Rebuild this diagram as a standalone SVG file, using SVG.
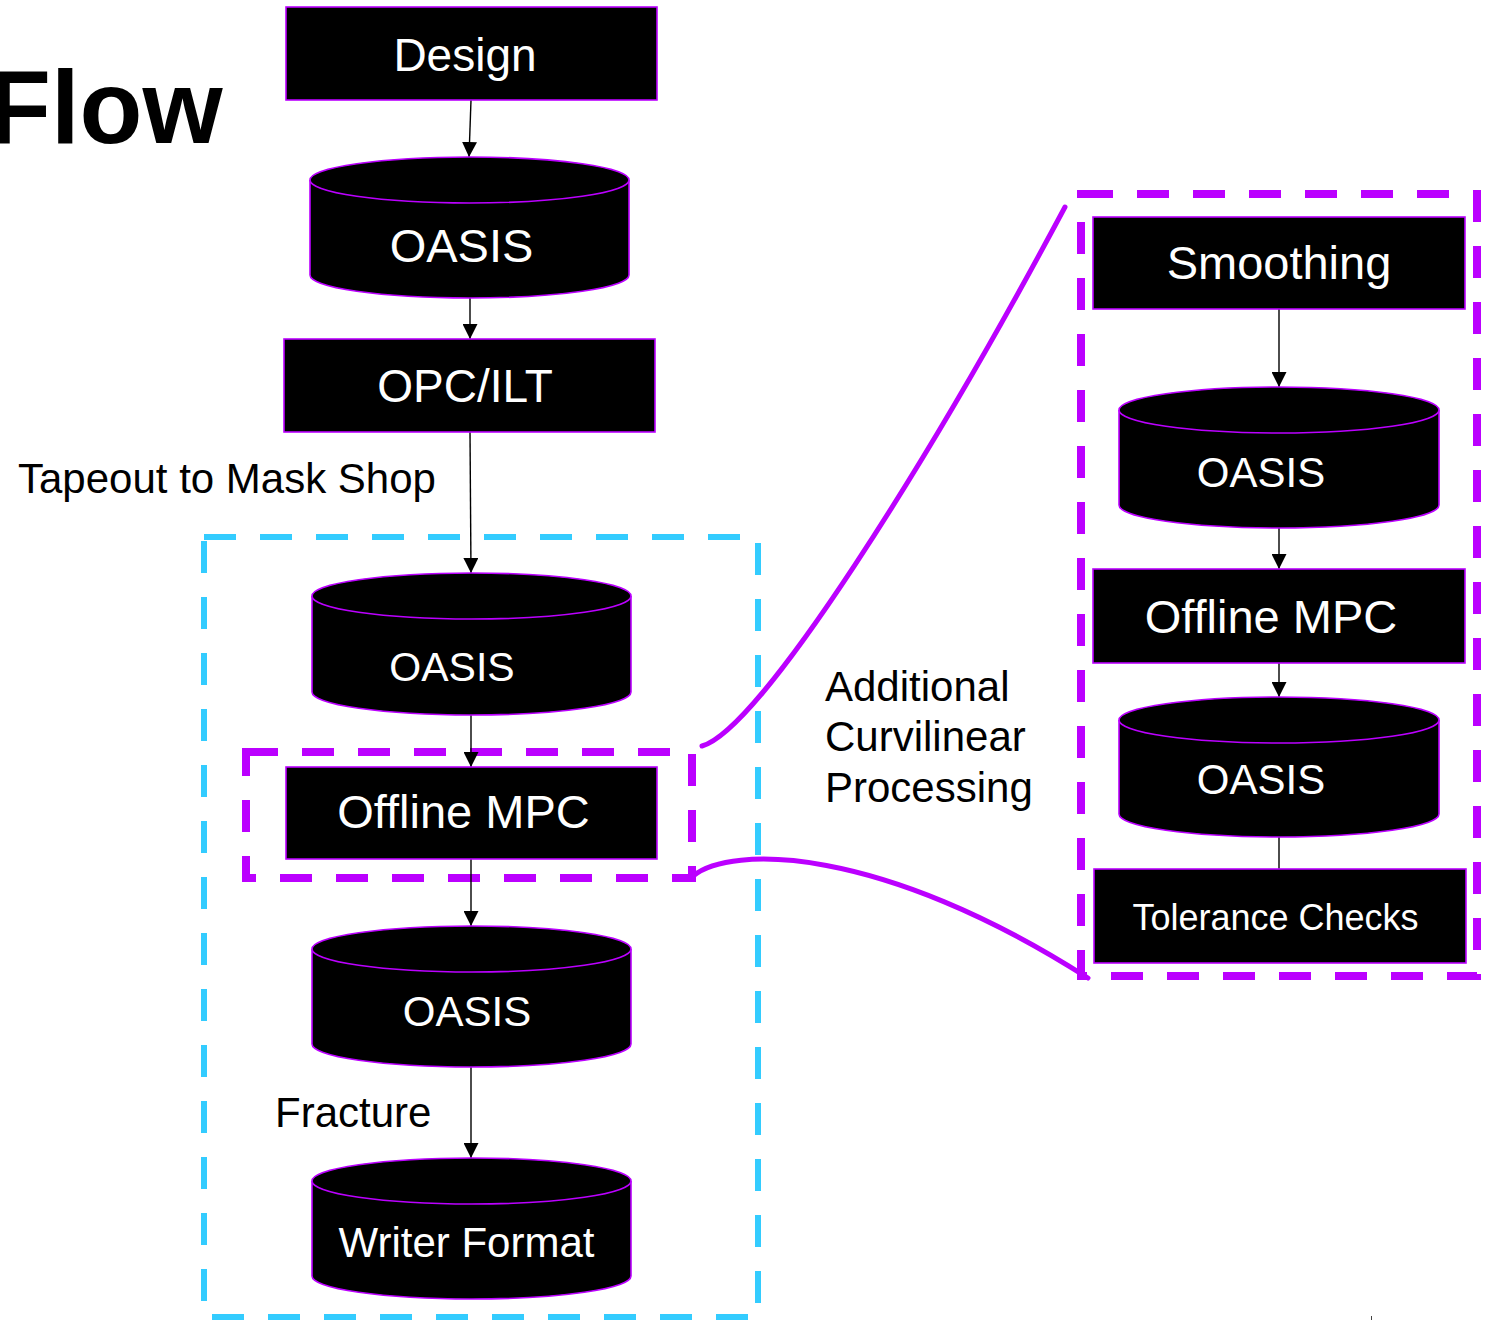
<svg xmlns="http://www.w3.org/2000/svg" width="1485" height="1320" viewBox="0 0 1485 1320">
  <style>
    .box { fill: #000; stroke: #BB00FF; stroke-width: 1.6; }
    .cyl { fill: #000; stroke: #BB00FF; stroke-width: 1.6; }
    .lbl { font-family: "Liberation Sans", Arial, sans-serif; fill: #fff; text-anchor: middle; }
    .note { font-family: "Liberation Sans", Arial, sans-serif; fill: #000; font-size: 42px; }
    .edge { stroke: #000; stroke-width: 1.4; fill: none; }
    .arrow { marker-end: url(#head); }
    .zone-cyan { fill: none; stroke: #33CCFF; stroke-width: 6; stroke-dasharray: 32 24; }
    .zone-purple { fill: none; stroke: #BB00FF; stroke-width: 8; stroke-dasharray: 32 24; }
    .zoom-link { fill: none; stroke: #BB00FF; stroke-width: 5; stroke-linecap: round; }
  </style>
  <defs>
    <marker id="head" markerUnits="userSpaceOnUse" markerWidth="15" markerHeight="15" refX="15" refY="7.5" orient="auto">
      <path d="M0,0 L15,7.5 L0,15 Z" fill="#000"/>
    </marker>
  </defs>

  <rect width="1485" height="1320" fill="#fff"/>

  <!-- title -->
  <text x="-12" y="143" font-family="Liberation Sans, Arial, sans-serif" font-weight="bold" font-size="103" fill="#000">Flow</text>

  <!-- grouping frames -->
  <g id="frames">
    <rect class="zone-cyan" x="204" y="537" width="554" height="780"/>
    <rect class="zone-purple" x="246" y="752" width="446" height="126"/>
    <rect class="zone-purple" x="1081" y="194" width="396" height="782"/>
  </g>

  <!-- connectors -->
  <g id="connectors">
    <line class="edge arrow" x1="471" y1="100" x2="469" y2="157"/>
    <line class="edge arrow" x1="470" y1="298" x2="470" y2="339"/>
    <line class="edge arrow" x1="470" y1="432" x2="471" y2="573"/>
    <line class="edge arrow" x1="471" y1="715" x2="471" y2="767"/>
    <line class="edge arrow" x1="471" y1="859" x2="471" y2="926"/>
    <line class="edge arrow" x1="471" y1="1067" x2="471" y2="1158"/>
    <line class="edge arrow" x1="1279" y1="309" x2="1279" y2="387"/>
    <line class="edge arrow" x1="1279" y1="528" x2="1279" y2="569"/>
    <line class="edge arrow" x1="1279" y1="663" x2="1279" y2="697"/>
    <line class="edge" x1="1279" y1="837" x2="1279" y2="869"/>
    <!-- zoom-out curves from the small frame to the detail frame -->
    <path class="zoom-link" d="M702,746 C760,730 930,460 1065,207"/>
    <path class="zoom-link" d="M693,876 C730,845 880,845 1088,978"/>
  </g>

  <!-- main flow -->
  <g id="design">
    <rect class="box" x="286" y="7" width="371" height="93"/>
    <text class="lbl" x="465" y="71" font-size="46">Design</text>
  </g>

  <g id="oasis-1">
    <path class="cyl" d="M310,180 A159.5,23 0 0 1 629,180 L629,275 A159.5,23 0 0 1 310,275 Z"/>
    <path class="cyl" fill="none" d="M310,180 A159.5,23 0 0 0 629,180"/>
    <text class="lbl" x="461.5" y="262" font-size="47">OASIS</text>
  </g>

  <g id="opc-ilt">
    <rect class="box" x="284" y="339" width="371" height="93"/>
    <text class="lbl" x="465" y="402" font-size="46">OPC/ILT</text>
  </g>

  <g id="oasis-2">
    <path class="cyl" d="M312,596 A159.5,23 0 0 1 631,596 L631,692 A159.5,23 0 0 1 312,692 Z"/>
    <path class="cyl" fill="none" d="M312,596 A159.5,23 0 0 0 631,596"/>
    <text class="lbl" x="452" y="681" font-size="41">OASIS</text>
  </g>

  <g id="offline-mpc">
    <rect class="box" x="286" y="767" width="371" height="92"/>
    <text class="lbl" x="463.5" y="828" font-size="47">Offline MPC</text>
  </g>

  <g id="oasis-3">
    <path class="cyl" d="M312,949 A159.5,23 0 0 1 631,949 L631,1044 A159.5,23 0 0 1 312,1044 Z"/>
    <path class="cyl" fill="none" d="M312,949 A159.5,23 0 0 0 631,949"/>
    <text class="lbl" x="467" y="1026" font-size="42">OASIS</text>
  </g>

  <g id="writer-format">
    <path class="cyl" d="M312,1181 A159.5,23 0 0 1 631,1181 L631,1276 A159.5,23 0 0 1 312,1276 Z"/>
    <path class="cyl" fill="none" d="M312,1181 A159.5,23 0 0 0 631,1181"/>
    <text class="lbl" x="466.5" y="1257" font-size="42">Writer Format</text>
  </g>

  <!-- detail flow -->
  <g id="smoothing">
    <rect class="box" x="1093" y="217" width="372" height="92"/>
    <text class="lbl" x="1279" y="279" font-size="47">Smoothing</text>
  </g>

  <g id="oasis-r1">
    <path class="cyl" d="M1119,410 A160,23 0 0 1 1439,410 L1439,505 A160,23 0 0 1 1119,505 Z"/>
    <path class="cyl" fill="none" d="M1119,410 A160,23 0 0 0 1439,410"/>
    <text class="lbl" x="1261" y="487" font-size="42">OASIS</text>
  </g>

  <g id="offline-mpc-r">
    <rect class="box" x="1093" y="569" width="372" height="94"/>
    <text class="lbl" x="1271" y="633" font-size="47">Offline MPC</text>
  </g>

  <g id="oasis-r2">
    <path class="cyl" d="M1119,720 A160,23 0 0 1 1439,720 L1439,814 A160,23 0 0 1 1119,814 Z"/>
    <path class="cyl" fill="none" d="M1119,720 A160,23 0 0 0 1439,720"/>
    <text class="lbl" x="1261" y="794" font-size="42">OASIS</text>
  </g>

  <g id="tolerance-checks">
    <rect class="box" x="1094" y="869" width="372" height="94"/>
    <text class="lbl" x="1275.5" y="930" font-size="36">Tolerance Checks</text>
  </g>

  <!-- free labels -->
  <g id="labels">
    <text class="note" x="18" y="493">Tapeout to Mask Shop</text>
    <text class="note" x="275" y="1127">Fracture</text>
    <text class="note" x="825" y="701">Additional</text>
    <text class="note" x="825" y="751">Curvilinear</text>
    <text class="note" x="825" y="802">Processing</text>
  </g>

  <rect x="1371" y="1316" width="1" height="4" fill="#444"/>
</svg>
